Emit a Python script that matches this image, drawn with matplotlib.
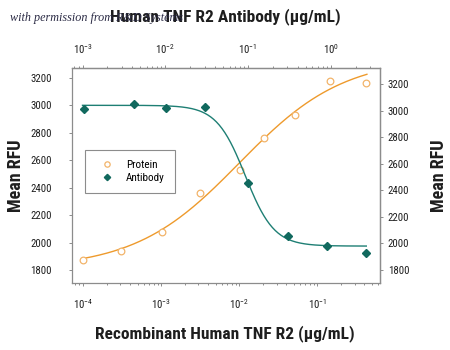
import numpy as np
import matplotlib

matplotlib.use("Agg")
import matplotlib.pyplot as plt
from matplotlib import font_manager
from matplotlib.ticker import NullFormatter, LogLocator

# narrow sans if one is installed, else the narrowest plain one
installed = {f.name for f in font_manager.fontManager.ttflist}
candidates = ["Liberation Sans Narrow", "DejaVu Sans Condensed", "Roboto Condensed",
              "Noto Sans Condensed", "Open Sans Condensed", "Roboto", "DejaVu Sans"]
FONT = next(n for n in candidates if n in installed)

plt.rcParams["font.family"] = [FONT, "DejaVu Sans"]
plt.rcParams["mathtext.fontset"] = "custom"
plt.rcParams["mathtext.rm"] = FONT
plt.rcParams["mathtext.it"] = FONT + ":italic"
plt.rcParams["mathtext.bf"] = FONT + ":bold"

# Recombinant protein (bottom / left axes)
protein_conc = [1.0e-4, 3.1e-4, 1.04e-3, 3.1e-3, 1.03e-2, 2.05e-2, 5.1e-2, 0.143, 0.42]
protein_rfu = [1873, 1939, 2077, 2364, 2530, 2766, 2931, 3175, 3163]
# 4PL fit: bottom, top, EC50, hill
protein_fit = [1810, 3350, 0.0100, 0.65]

# Antibody (top / right axes)
antibody_conc = [1.05e-3, 4.2e-3, 1.02e-2, 3.06e-2, 0.101, 0.303, 0.90, 2.65]
antibody_rfu = [3013, 3051, 3017, 3030, 2454, 2059, 1979, 1931]
antibody_fit = [3040, 1980, 0.093, 2.5]

bottom_ticks = [1e-4, 1e-3, 1e-2, 1e-1]
bottom_labels = ["$10^{-4}$", "$10^{-3}$", "$10^{-2}$", "$10^{-1}$"]
top_ticks = [1e-3, 1e-2, 1e-1, 1e0]
top_labels = ["$10^{-3}$", "$10^{-2}$", "$10^{-1}$", "$10^{0}$"]
rfu_ticks = [1800, 2000, 2200, 2400, 2600, 2800, 3000, 3200]

ORANGE = "#EE9A2C"
ORANGE_PT = "#F2B46A"
TEAL = "#1E7F74"
TEAL_PT = "#11695E"
GRAY = "#8C8C8C"
TEXT = "#1E1E1E"


def four_pl(x, a, d, c, h):
    """Four parameter logistic: a at low x, d at high x."""
    return d + (a - d) / (1.0 + (x / c) ** h)


def style_axis(ax):
    for side in ax.spines.values():
        side.set_color(GRAY)
        side.set_linewidth(0.9)
    ax.tick_params(which="both", direction="out", color=GRAY, width=0.7,
                   labelsize=7.8, labelcolor=TEXT)
    ax.tick_params(which="major", length=2.5)
    ax.tick_params(which="minor", length=1.6)
    ax.xaxis.set_minor_locator(LogLocator(base=10, subs=np.arange(2, 10)))
    ax.xaxis.set_minor_formatter(NullFormatter())


fig = plt.figure(figsize=(4.5, 3.5), dpi=100)
rect = [72 / 450, 1 - 283 / 350, 308 / 450, 215 / 350]

ax = fig.add_axes(rect)
ax2 = fig.add_axes(rect, label="antibody")
ax2.patch.set_visible(False)

# protein on bottom/left
ax.set_xscale("log")
ax.set_xlim(10 ** -4.141, 10 ** -0.199)
ax.set_ylim(1705, 3273)
xs = np.logspace(-4, np.log10(0.43), 300)
ax.plot(xs, four_pl(xs, *protein_fit), color=ORANGE, lw=1.0, zorder=2)
p_pts, = ax.plot(protein_conc, protein_rfu, "o", mfc="white", mec=ORANGE_PT,
                 mew=0.9, ms=4.8, zorder=3, label="Protein")

# antibody on top/right
ax2.set_xscale("log")
ax2.set_xlim(10 ** -3.127, 10 ** 0.597)
ax2.set_ylim(1702, 3321)
xs2 = np.logspace(-3, np.log10(2.7), 300)
ax2.plot(xs2, four_pl(xs2, *antibody_fit), color=TEAL, lw=1.0, zorder=2)
a_pts, = ax2.plot(antibody_conc, antibody_rfu, "D", color=TEAL_PT, ms=4,
                  zorder=3, label="Antibody")
ax2.xaxis.tick_top()
ax2.yaxis.tick_right()
ax2.spines["left"].set_visible(False)
ax2.spines["bottom"].set_visible(False)

for a in (ax, ax2):
    style_axis(a)

ax.set_xticks(bottom_ticks, bottom_labels)
ax.set_yticks(rfu_ticks)
ax.tick_params(axis="x", which="major", pad=8)
ax.tick_params(axis="y", pad=12)
ax2.set_xticks(top_ticks, top_labels)
ax2.set_yticks(rfu_ticks)
ax2.tick_params(axis="x", which="major", pad=6)
ax2.tick_params(axis="y", pad=3)

# labels
title_font = {"fontsize": 12.5, "fontweight": "bold", "color": TEXT}
rfu_font = {"fontsize": 13, "fontweight": "bold", "color": TEXT}
ax.set_ylabel("Mean RFU", **rfu_font)
ax.yaxis.set_label_coords(-0.153, 0.5)
ax2.set_ylabel("Mean RFU", rotation=90, **rfu_font)
ax2.yaxis.set_label_position("right")
ax2.yaxis.set_label_coords(1.163, 0.5)
ax.set_xlabel("Recombinant Human TNF R2 (\u03bcg/mL)", **title_font)
ax.xaxis.set_label_coords(0.497, -0.195)
ax2.set_xlabel("Human TNF R2 Antibody (\u03bcg/mL)", **title_font)
ax2.xaxis.set_label_position("top")
ax2.xaxis.set_label_coords(0.497, 1.219)

leg = ax2.legend(handles=[p_pts, a_pts], loc="upper left",
                 bbox_to_anchor=(0.042, 0.619), borderaxespad=0,
                 fancybox=False, edgecolor=GRAY, framealpha=1,
                 fontsize=8, handlelength=2.2, handletextpad=0.6,
                 borderpad=0.9, labelspacing=0.25, markerscale=0.8)
leg.get_frame().set_linewidth(0.8)

fig.text(0.022, 0.948, "with permission from R&D Systems", fontsize=8.7,
         style="italic", family=["Liberation Serif", "DejaVu Serif"],
         color="#2B2B45", va="center", ha="left", zorder=5)

fig.savefig("out.png", dpi=100)
